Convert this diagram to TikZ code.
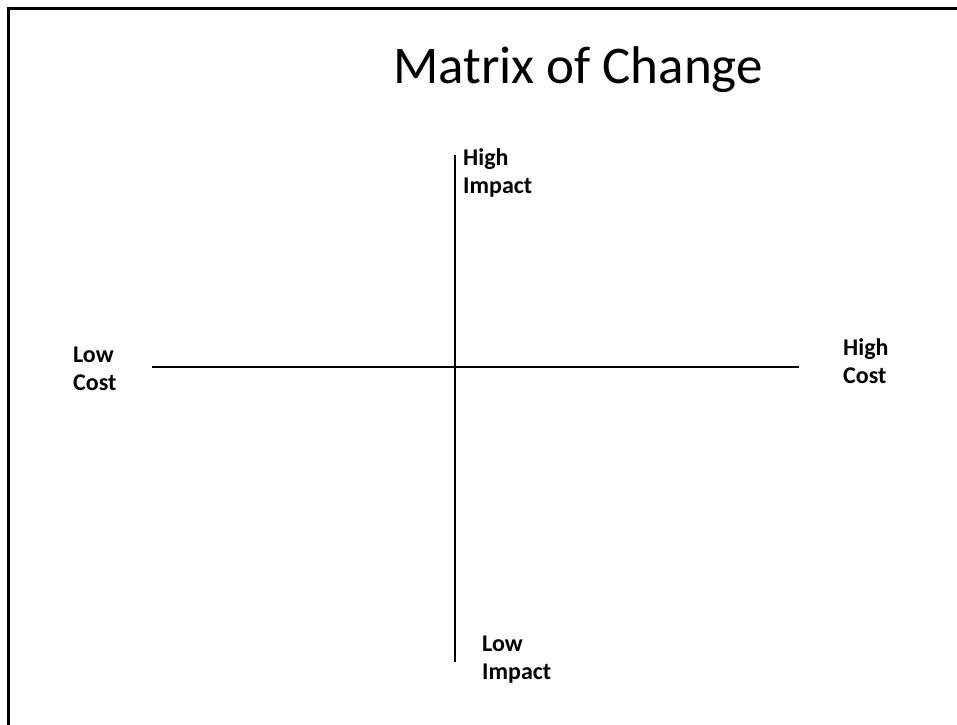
\documentclass[tikz,border=0pt]{standalone}
\usepackage{fontspec}
\setmainfont{Carlito}
\usetikzlibrary{positioning}

\begin{document}
\begin{tikzpicture}[x=1pt, y=-1pt,
  axis/.style={draw=black, line width=2pt},
  lbl/.style={anchor=north west, inner sep=0pt, align=left,
    font=\fontsize{24}{28}\selectfont\bfseries}]
  \useasboundingbox (0,0) rectangle (957,724);
  \clip (0,0) rectangle (957,724);
  % slide frame, cut by the page edge
  \draw[line width=3pt] (8,8) rectangle (1000,800);
  \node[anchor=base, inner sep=0pt, font=\fontsize{53}{60}\selectfont] (title) at (578,83) {Matrix of Change};
  % axes
  \coordinate (cl) at (152,367);
  \coordinate (cr) at (799,367);
  \coordinate (it) at (455,155);
  \coordinate (ib) at (455,662);
  \draw[axis] (cl) -- (cr);
  \draw[axis] (it) -- (ib);
  % end labels
  \node[lbl] (hi) at (463,148) {High\\Impact};
  \node[lbl] (li) at (482,636) {Low\\Impact};
  \node[lbl] (lc) at (73,347) {Low\\Cost};
  \node[lbl] (hc) at (843,338) {High\\Cost};
\end{tikzpicture}
\end{document}
